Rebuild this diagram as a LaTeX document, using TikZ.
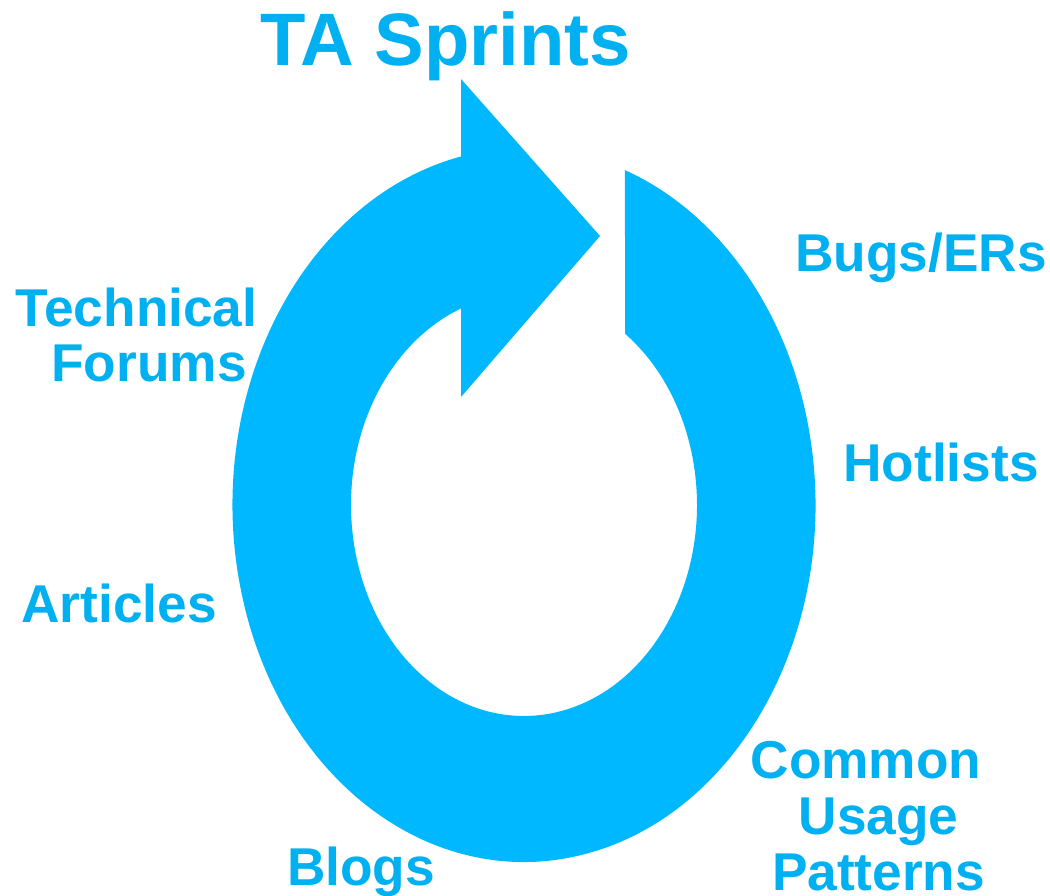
\documentclass[tikz,border=0pt]{standalone}
\usepackage{fontspec}
\setmainfont{Liberation Sans}
\usetikzlibrary{calc}
\definecolor{ringblue}{RGB}{0,184,255}
\definecolor{textblue}{RGB}{0,176,240}
\tikzset{
  label/.style={font=\fontsize{30.3}{31.7}\selectfont\bfseries, text=textblue,
    inner sep=0pt, anchor=base, align=center},
  title/.style={font=\fontsize{42.3}{45}\selectfont\bfseries, text=textblue,
    inner sep=0pt, anchor=base},
  ring/.style={fill=ringblue, draw=none}
}
\begin{document}
\begin{tikzpicture}[x=0.02cm, y=0.02cm]
  \useasboundingbox (0,0) rectangle (1050,895);
  % circular arrow: elliptical band with an arrowhead at the top
  \coordinate (c) at (524,390);
  \fill[ring]
    ([shift={(c)}]102.48:291.5 and 357)
      arc[start angle=102.48, end angle=429.73, x radius=291.5, y radius=357]
    -- ([shift={(c)}]54.28:173 and 211)
      arc[start angle=54.28, end angle=-248.64, x radius=173, y radius=211]
    -- (461,498) -- (600,659) -- (461,816) -- cycle;
  % labels (base anchor = baseline of the last line)
  \node[title] (ttl) at (445.5,829) {TA Sprints};
  \node[label] (bugs) at (921,623) {Bugs/ERs};
  \node[label] (hot) at (941,413) {Hotlists};
  \node[label] (tech) at (136.5,513) {Technical\\\hspace*{0.5cm}Forums};
  \node[label] (art) at (119,272) {Articles};
  \node[label] (blogs) at (361,10) {Blogs};
  \node[label] (cup) at (878.5,5) {Common\hspace*{0.5cm}\\Usage\\Patterns};
\end{tikzpicture}
\end{document}
